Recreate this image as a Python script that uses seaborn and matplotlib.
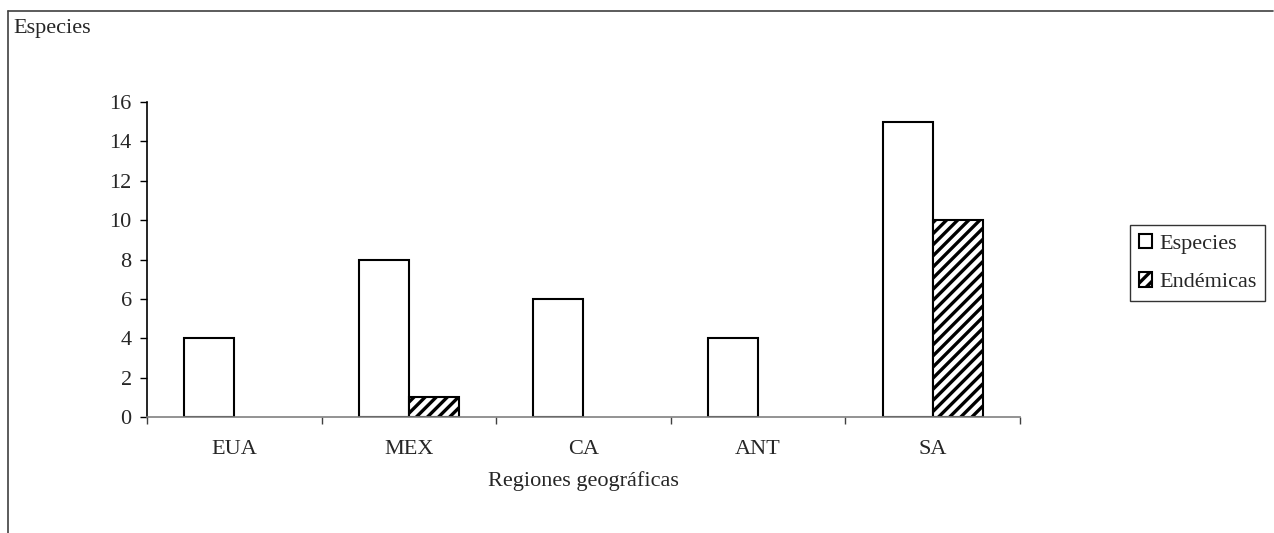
import matplotlib
matplotlib.use('Agg')
import matplotlib.pyplot as plt
import seaborn as sns
import pandas as pd
from matplotlib.lines import Line2D

# chart data
regiones = ['EUA', 'MEX', 'CA', 'ANT', 'SA']
especies = [4, 8, 6, 4, 15]
endemicas = [0, 1, 0, 0, 10]
series = ['Especies', 'Endémicas']

rows = []
for r, e, n in zip(regiones, especies, endemicas):
    rows.append({'region': r, 'serie': 'Especies', 'valor': e})
    if n > 0:
        rows.append({'region': r, 'serie': 'Endémicas', 'valor': n})
df = pd.DataFrame(rows)

sns.set_style('white')
plt.rcParams['font.family'] = ['Liberation Serif', 'DejaVu Serif']
plt.rcParams['hatch.linewidth'] = 2.4
plt.rcParams['hatch.color'] = 'black'
FS = 16

fig = plt.figure(figsize=(12.74, 5.33), dpi=100)
ax = fig.add_axes([0.1154, 0.2176, 0.6852, 0.591])

sns.barplot(data=df, x='region', y='valor', hue='serie', order=regiones,
            hue_order=series, palette=['white', 'white'], width=0.573,
            edgecolor='black', linewidth=1.5, saturation=1, ax=ax, legend=False)

# hatch the endemic bars
for cont, name in zip(ax.containers, series):
    if name == 'Endémicas':
        for bar in cont:
            bar.set_hatch('///')

ax.set_ylim(0, 16)
ax.set_xlim(-0.5, len(regiones) - 0.5)
ax.set_yticks(range(0, 17, 2))
ax.set_xticks(range(len(regiones)))
ax.set_xticklabels(regiones)
ax.set_xticks([i - 0.5 for i in range(len(regiones) + 1)], minor=True)
ax.tick_params(axis='x', which='major', bottom=False, pad=13, labelsize=FS)
ax.tick_params(axis='x', which='minor', bottom=True, length=5, width=1, color='#404040', direction='out')
ax.tick_params(axis='y', left=True, length=5, width=1, color='black', direction='out', pad=6, labelsize=FS)
for s in ['top', 'right']:
    ax.spines[s].set_visible(False)
ax.spines['left'].set_color('black')
ax.spines['left'].set_linewidth(1.2)
ax.spines['bottom'].set_color('#808080')
ax.spines['bottom'].set_linewidth(1.2)
ax.set_xlabel('Regiones geográficas', fontsize=FS, labelpad=9)
ax.set_ylabel('')

fig.text(13 / 1274, 1 - 28 / 533, 'Especies', fontsize=FS, ha='left', va='center')

handles = [plt.Rectangle((0, 0), 1, 1, facecolor='white', edgecolor='black', linewidth=1.5),
           plt.Rectangle((0, 0), 1, 1, facecolor='white', edgecolor='black', linewidth=1.5, hatch='///')]
leg = fig.legend(handles, series, loc='center left', bbox_to_anchor=(1130 / 1274, 1 - 263 / 533),
                 frameon=True, fancybox=False, edgecolor='black', fontsize=FS,
                 handlelength=0.6, handleheight=0.6, handletextpad=0.3,
                 borderpad=0.4, labelspacing=0.85, borderaxespad=0)
leg.get_frame().set_linewidth(1.0)

# outer chart frame (top and left edges)
fig.add_artist(Line2D([8 / 1274, 1273 / 1274], [1 - 11 / 533, 1 - 11 / 533], color='#404040', linewidth=1.2))
fig.add_artist(Line2D([8 / 1274, 8 / 1274], [0, 1 - 11 / 533], color='#404040', linewidth=1.2))

fig.savefig('out.png', dpi=100)
